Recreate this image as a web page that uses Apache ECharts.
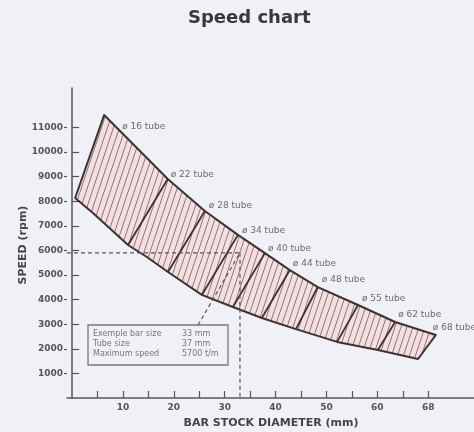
<!DOCTYPE html>
<html><head><meta charset="utf-8">
<script src="https://cdn.jsdelivr.net/npm/echarts@6/dist/echarts.min.js"></script>
<style>html,body{margin:0;padding:0;background:#eff1f6;} #c{width:474px;height:432px;}</style>
</head><body><div id="c"></div>
<script>
// ---- data ----
const chartTitle = 'Speed chart';
const xAxisName = 'BAR STOCK DIAMETER (mm)';
const yAxisName = 'SPEED (rpm)';
const xTickValues = [5,10,15,20,25,30,35,40,45,50,55,60,65,70];
const xLabelValues = [10,20,30,40,50,60,70];
const xLabelTexts = ['10','20','30','40','50','60','68'];
const yTickValues = [1000,2000,3000,4000,5000,6000,7000,8000,9000,10000,11000];
const tubeLabels = ['ø 16 tube','ø 22 tube','ø 28 tube','ø 34 tube','ø 40 tube','ø 44 tube','ø 48 tube','ø 55 tube','ø 62 tube','ø 68 tube'];
// upper boundary (max speed) at each tube point
const upperX = [6.3, 18.8, 26.1, 32.6, 37.9, 42.8, 48.3, 56.2, 63.5, 71.5];
const upperY = [11500, 8900, 7600, 6630, 5890, 5200, 4510, 3780, 3090, 2560];
// lower boundary
const lowerX = [0.6, 4.1, 11.0, 14.7, 18.85, 25.5, 31.6, 37.3, 44.0, 52.1, 60.1, 68.0];
const lowerY = [8130, 7520, 6220, 5730, 5120, 4190, 3700, 3250, 2800, 2280, 1950, 1585];
// division lines: upper point index -> lower point index
const divUpper = [1, 2, 3, 4, 5, 6, 7, 8];
const divLower = [2, 4, 5, 6, 7, 8, 9, 10];
// example
const exampleBar = 33;
const exampleSpeed = 5900;
const noteNames = ['Exemple bar size', 'Tube size', 'Maximum speed'];
const noteValues = ['33 mm', '37 mm', '5700 t/m'];

// ---- layout / style ----
const labelDx = [18, 3, 4, 4, 3, 3, 4, 4, 3, -3];
const labelDy = [12, -4, -5, -4, -4, -6, -7, -6, -7, -7];
const FONT = '"DejaVu Sans", Verdana, sans-serif';

function makeHatch() {
  const w = 6, h = 18;
  const c = document.createElement('canvas');
  c.width = w; c.height = h;
  const g = c.getContext('2d');
  g.fillStyle = '#f4dfdf';
  g.fillRect(0, 0, w, h);
  g.strokeStyle = '#806a6e';
  g.lineWidth = 0.9;
  g.beginPath();
  [-w, 0, w].forEach(function (dx) { g.moveTo(dx, h); g.lineTo(dx + w, 0); });
  g.stroke();
  return c;
}
const hatch = makeHatch();

const chart = echarts.init(document.getElementById('c'), null, {renderer: 'canvas'});

const boxLeft = 88, boxTop = 325, boxW = 140, boxH = 40;

const option = {
  backgroundColor: '#eff1f6',
  animation: false,
  title: {
    text: chartTitle,
    left: 183, top: 4,
    textStyle: {fontFamily: FONT, fontWeight: 'bold', fontSize: 18, color: '#383838'}
  },
  grid: {left: 67, right: 0, top: 88, bottom: 34, containLabel: false},
  xAxis: {
    type: 'value', min: -1, max: 79,
    axisLine: {show: true, lineStyle: {color: '#555', width: 1.5}},
    axisTick: {show: true, inside: true, length: 7, customValues: xTickValues, lineStyle: {color: '#555', width: 1.2}},
    axisLabel: {
      customValues: xLabelValues, margin: 5,
      formatter: function (v) { const i = xLabelValues.indexOf(v); return i >= 0 ? xLabelTexts[i] : ''; },
      fontFamily: FONT, fontWeight: 'bold', fontSize: 9, color: '#555'
    },
    splitLine: {show: false}
  },
  yAxis: [{
    type: 'value', min: 0, max: 12600,
    axisLine: {show: true, lineStyle: {color: '#555', width: 1.5}},
    axisTick: {show: true, inside: true, length: 7, customValues: yTickValues, lineStyle: {color: '#555', width: 1.2}},
    axisLabel: {customValues: yTickValues, margin: 4, formatter: function (v) { return String(v); },
      fontFamily: FONT, fontWeight: 'bold', fontSize: 9, color: '#555'},
    splitLine: {show: false}
  }, {
    type: 'value', min: 0, max: 12600, position: 'left',
    axisLine: {show: false},
    axisTick: {show: true, inside: false, length: 3, customValues: yTickValues, lineStyle: {color: '#555', width: 1.2}},
    axisLabel: {show: false},
    splitLine: {show: false}
  }],
  graphic: [
    {type: 'text', x: 23, y: 245, rotation: Math.PI / 2,
     style: {text: yAxisName, fill: '#444', font: 'bold 11px ' + FONT, textAlign: 'center', textVerticalAlign: 'middle'}},
    {type: 'text', x: 271, y: 423,
     style: {text: xAxisName, fill: '#444', font: 'bold 11px ' + FONT, textAlign: 'center', textVerticalAlign: 'middle'}},
    {type: 'rect', shape: {x: boxLeft, y: boxTop, width: boxW, height: boxH},
     style: {fill: 'none', stroke: '#7a7a7a', lineWidth: 1.3}},
    {type: 'text', x: boxLeft + 5, y: boxTop + 4,
     style: {text: noteNames.join('\n'), fill: '#777', font: '8px ' + FONT, lineHeight: 10, textVerticalAlign: 'top'}},
    {type: 'text', x: boxLeft + 94, y: boxTop + 4,
     style: {text: noteValues.join('\n'), fill: '#777', font: '8px ' + FONT, lineHeight: 10, textVerticalAlign: 'top'}}
  ],
  series: [{
    type: 'custom',
    coordinateSystem: 'cartesian2d',
    clip: false,
    data: [[0, 0]],
    renderItem: function (params, api) {
      const up = upperX.map(function (x, i) { return api.coord([x, upperY[i]]); });
      const lo = lowerX.map(function (x, i) { return api.coord([x, lowerY[i]]); });
      const poly = lo.concat(up.slice().reverse());
      const children = [];
      const ex = api.coord([exampleBar, exampleSpeed]);
      const ex0 = api.coord([-1, exampleSpeed]);
      const exB = api.coord([exampleBar, 0]);
      const dashStyle = {stroke: '#555', lineWidth: 1.2, lineDash: [4, 3], fill: null};
      children.push({type: 'polygon', shape: {points: poly},
        style: {fill: {image: hatch, repeat: 'repeat'}, stroke: '#3b3234', lineWidth: 2, lineJoin: 'round'}});
      divUpper.forEach(function (ui, k) {
        const a = up[ui], b = lo[divLower[k]];
        children.push({type: 'line', shape: {x1: a[0], y1: a[1], x2: b[0], y2: b[1]},
          style: {stroke: '#3b3234', lineWidth: 1.8}});
      });
      children.push({type: 'line', shape: {x1: ex0[0], y1: ex0[1], x2: ex[0], y2: ex[1]}, style: dashStyle});
      children.push({type: 'line', shape: {x1: ex[0], y1: ex[1], x2: exB[0], y2: exB[1]}, style: dashStyle});
      children.push({type: 'line', shape: {x1: boxLeft + 110, y1: boxTop, x2: ex[0], y2: ex[1]}, style: dashStyle});
      tubeLabels.forEach(function (t, i) {
        children.push({type: 'text', x: up[i][0] + labelDx[i], y: up[i][1] + labelDy[i],
          style: {text: t, fill: '#6c6c6c', font: '9px ' + FONT, textAlign: 'left', textVerticalAlign: 'middle'}});
      });
      return {type: 'group', children: children};
    }
  }]
};
chart.setOption(option);
</script>
</body></html>
